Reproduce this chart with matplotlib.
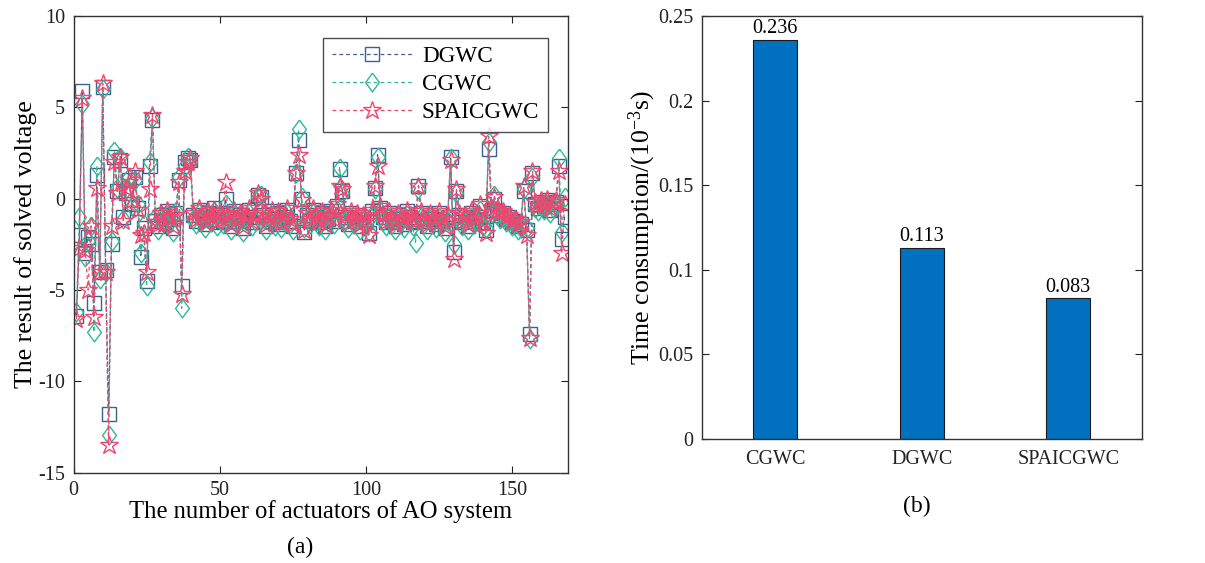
import matplotlib
matplotlib.use("Agg")
import matplotlib.pyplot as plt
import numpy as np

plt.rcParams['font.family'] = ['Liberation Serif', 'DejaVu Serif']
plt.rcParams['mathtext.fontset'] = 'custom'
plt.rcParams['mathtext.rm'] = 'Liberation Serif'
plt.rcParams['mathtext.it'] = 'Liberation Serif:italic'
plt.rcParams['axes.unicode_minus'] = False

# ---------------- data: panel (a) ----------------
dgwc = [-6.4, -2.0, 5.9, -3.0, -2.1, -2.5, -5.7, 1.3, -4.0, 6.1,
        -3.9, -11.8, -2.5, 2.3, 0.4, 2.1, -1.0, 0.3, 1.0, -0.3,
        1.2, -0.5, -3.2, -1.6, -4.5, 1.8, 4.3, -1.2, -1.5, -0.9,
        -1.3, -0.7, -1.1, -1.6, -0.8, 1.0, -4.8, 2.0, 2.2, 2.1,
        -0.9, -1.2, -0.6, -1.0, -1.4, -0.8, -1.1, -0.5, -1.3, -0.9,
        -1.2, 0.0, -1.0, -1.5, -0.7, -1.2, -0.9, -1.6, -1.0, -0.6,
        -1.3, -1.0, 0.2, 0.1, -0.9, -1.5, -1.1, -0.7, -1.3, -0.8,
        -1.4, -1.0, -0.6, -1.2, -1.5, 1.4, 3.2, 0.0, -1.8, -0.9,
        -1.2, -0.6, -1.0, -1.3, -0.8, -1.5, -1.1, -0.7, -1.2, -0.4,
        1.6, 0.4, -1.0, -1.4, -0.8, -1.2, -0.9, -1.5, -1.0, -1.3,
        -1.9, -0.7, 0.6, 2.4, -0.5, -1.0, -1.3, -0.8, -1.2, -1.5,
        -0.9, -1.1, -1.4, -0.7, -1.0, -1.3, -1.2, 0.7, -0.8, -1.2,
        -1.5, -0.9, -1.1, -1.4, -0.8, -1.2, -1.6, -1.0, 2.3, -2.9,
        0.4, -0.9, -1.3, -1.0, -1.5, -0.8, -1.2, -1.0, -0.4, -1.3,
        -1.7, 2.7, -0.6, 0.0, -0.7, -0.9, -0.8, -1.1, -1.0, -1.3,
        -1.2, -1.5, -1.4, 0.4, -1.7, -7.4, 1.4, -0.3, -0.5, -0.2,
        -0.4, -0.1, -0.6, -0.3, -0.2, 1.8, -2.2, -1.0]

cgwc = [-6.2, -1.0, 5.2, -3.2, -2.3, -1.5, -7.3, 1.8, -4.4, 6.0,
        -4.0, -12.9, -2.3, 2.6, 0.6, 2.3, -1.1, 0.5, 1.2, -0.4,
        1.0, -0.3, -3.0, -1.4, -4.8, 2.0, 4.4, -1.0, -1.7, -1.1,
        -1.2, -0.9, -1.3, -1.8, -0.7, 1.2, -6.0, 1.8, 2.3, 2.0,
        -1.1, -1.4, -0.8, -1.2, -1.6, -0.9, -1.3, -0.7, -1.5, -1.1,
        -1.4, -0.3, -1.2, -1.7, -0.9, -1.4, -1.1, -1.8, -1.2, -0.8,
        -1.5, -1.2, 0.1, 0.2, -1.1, -1.7, -1.3, -0.9, -1.5, -1.0,
        -1.6, -1.2, -0.8, -1.4, -1.7, 1.4, 3.8, 0.1, -1.6, -1.1,
        -1.4, -0.8, -1.2, -1.5, -1.0, -1.7, -1.3, -0.9, -1.4, -0.6,
        1.7, 0.3, -1.2, -1.6, -1.0, -1.4, -1.1, -1.7, -1.2, -1.5,
        -1.8, -0.9, 0.5, 2.3, -0.7, -1.2, -1.5, -1.0, -1.4, -1.7,
        -1.1, -1.3, -1.6, -0.9, -1.2, -1.5, -2.4, 0.5, -1.0, -1.4,
        -1.7, -1.1, -1.3, -1.6, -1.0, -1.4, -1.8, -1.2, 2.2, -2.5,
        0.3, -1.1, -1.5, -1.2, -1.7, -1.0, -1.4, -1.2, -0.6, -1.5,
        -1.6, 3.1, -0.8, 0.2, -0.9, -1.1, -1.0, -1.3, -1.2, -1.5,
        -1.4, -1.7, -1.6, 0.5, -1.6, -7.7, 1.2, -0.5, -0.7, -0.4,
        -0.6, -0.3, -0.8, -0.5, -0.4, 2.2, -1.8, 0.1]

spaicgwc = [-6.6, -2.7, 5.5, -2.8, -5.0, -1.5, -6.5, 0.6, -4.0, 6.3,
            -4.0, -13.5, -1.5, 2.0, 0.3, 2.3, -1.2, 0.6, 0.9, -0.1,
            1.5, -0.6, -2.0, -1.9, -4.0, 0.5, 4.6, -1.3, -1.4, -0.8,
            -1.4, -0.6, -1.0, -1.5, -0.9, 0.9, -5.2, 1.5, 2.0, 2.2,
            -0.8, -1.1, -0.5, -0.9, -1.3, -0.7, -1.0, -0.6, -1.2, -0.8,
            -1.1, 0.9, -0.9, -1.4, -0.6, -1.1, -0.8, -1.5, -0.9, -0.5,
            -1.2, -0.9, 0.3, 0.0, -0.8, -1.4, -1.0, -0.6, -1.2, -0.7,
            -1.3, -0.9, -0.5, -1.1, -1.4, 1.4, 2.4, -0.1, -1.7, -0.8,
            -1.1, -0.5, -0.9, -1.2, -0.7, -1.4, -1.0, -0.6, -1.1, -0.3,
            0.7, 0.5, -0.9, -1.3, -0.7, -1.1, -0.8, -1.4, -0.9, -1.2,
            -2.0, -0.6, 0.7, 1.8, -0.4, -0.9, -1.2, -0.7, -1.1, -1.4,
            -0.8, -1.0, -1.3, -0.6, -0.9, -1.2, -1.1, 0.7, -0.7, -1.1,
            -1.4, -0.8, -1.0, -1.3, -0.7, -1.1, -1.5, -0.9, 2.1, -3.3,
            0.5, -0.8, -1.2, -0.9, -1.4, -0.7, -1.1, -0.9, -0.3, -1.2,
            -1.9, 3.4, -0.5, 0.1, -0.6, -0.8, -0.7, -1.0, -0.9, -1.2,
            -1.1, -1.4, -1.3, 0.7, -2.0, -7.6, 1.5, -0.2, -0.4, -0.1,
            -0.3, 0.0, -0.5, -0.2, -0.1, 1.5, -3.0, -0.3]

actuators = np.arange(1, len(dgwc) + 1)

# ---------------- data: panel (b) ----------------
methods = ["CGWC", "DGWC", "SPAICGWC"]
times = [0.236, 0.113, 0.083]
ytick_vals = [0, 0.05, 0.1, 0.15, 0.2, 0.25]
ytick_labels = ["0", "0.05", "0.1", "0.15", "0.2", "0.25"]

c_d = '#3f5f93'
c_c = '#2fb897'
c_s = '#f0466f'
spine_c = '#333333'

# MATLAB-like diamond (taller than wide)
diamond = [(0, 1), (0.74, 0), (0, -1), (-0.74, 0), (0, 1)]

fig = plt.figure(figsize=(12.05, 5.63), dpi=100)

# ---------------- panel (a) ----------------
ax1 = fig.add_axes([0.061, 0.160, 0.410, 0.812])
ax1.plot(actuators, dgwc, linestyle='--', color=c_d, lw=0.9, marker='s',
         ms=9.6, mfc='none', mec=c_d, mew=1.0, label='DGWC', dashes=(3, 2.5))
ax1.plot(actuators, cgwc, linestyle='--', color=c_c, lw=0.9, marker=diamond,
         ms=13.5, mfc='none', mec=c_c, mew=1.0, label='CGWC', dashes=(3, 2.5))
ax1.plot(actuators, spaicgwc, linestyle='--', color=c_s, lw=0.9, marker='*',
         ms=13.5, mfc='none', mec=c_s, mew=1.0, label='SPAICGWC', dashes=(3, 2.5))
ax1.set_xlim(0, 169)
ax1.set_ylim(-15, 10)
ax1.set_xticks([0, 50, 100, 150])
ax1.set_yticks([-15, -10, -5, 0, 5, 10])
ax1.set_xlabel('The number of actuators of AO system', fontsize=17.7, labelpad=0)
ax1.set_ylabel('The result of solved voltage', fontsize=18.5, labelpad=1)
leg = ax1.legend(loc='upper right', bbox_to_anchor=(0.9596, 0.952), fontsize=16.7,
                 handlelength=3.5, frameon=True, fancybox=False, edgecolor='#222222',
                 borderpad=0.35, labelspacing=0.3, handletextpad=0.4, borderaxespad=0)
leg.get_frame().set_linewidth(1.0)

# ---------------- panel (b) ----------------
ax2 = fig.add_axes([0.5823, 0.2208, 0.3651, 0.7508])
pos = np.arange(1, len(methods) + 1)
bars = ax2.bar(pos, times, width=0.30, color='#0070bf', edgecolor='#1a1a1a', linewidth=0.8)
for p, v in zip(pos, times):
    ax2.text(p, v + 0.0008, f"{v:.3f}", ha='center', va='bottom', fontsize=14.5)
ax2.set_xlim(0.5, 3.5)
ax2.set_ylim(0, 0.25)
ax2.set_xticks(pos)
ax2.set_xticklabels(methods)
ax2.set_yticks(ytick_vals)
ax2.set_yticklabels(ytick_labels)
ax2.set_ylabel('Time consumption/(10$^{-3}$s)', fontsize=18.5, labelpad=0)

for ax in (ax1, ax2):
    ax.tick_params(direction='in', top=True, right=True, length=5, width=0.8,
                   labelsize=14.5, colors='#222222', pad=6)
    for s in ax.spines.values():
        s.set_color(spine_c)
        s.set_linewidth(1.0)
ax2.tick_params(axis='x', top=False, bottom=False, pad=8)
ax2.tick_params(axis='x', which='both', length=0)

fig.text(0.249, 0.027, '(a)', ha='center', va='center', fontsize=17)
fig.text(0.761, 0.100, '(b)', ha='center', va='center', fontsize=17)

fig.savefig('out.png', dpi=100)
